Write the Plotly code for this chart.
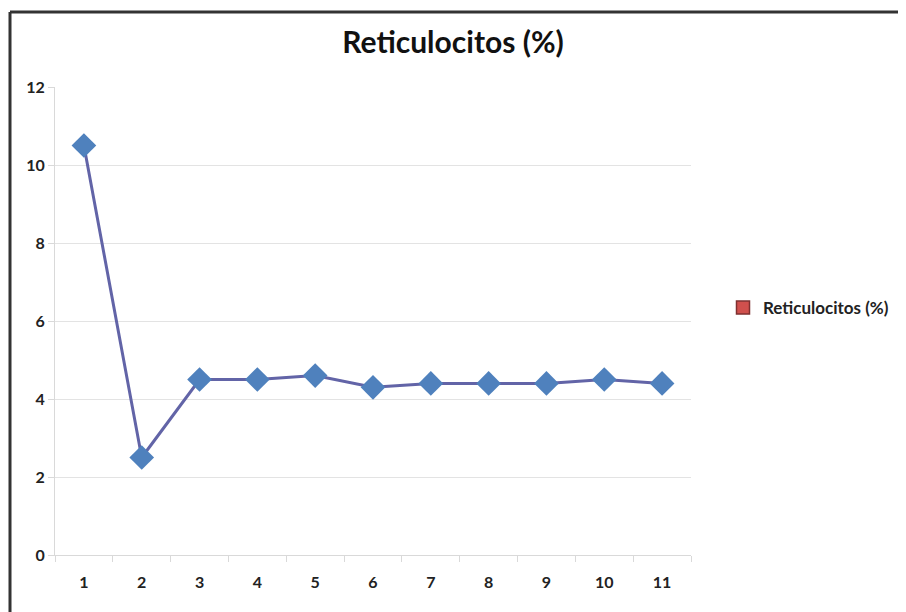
import plotly.graph_objects as go

categories = ["1", "2", "3", "4", "5", "6", "7", "8", "9", "10", "11"]
values = [10.5, 2.5, 4.5, 4.5, 4.6, 4.3, 4.4, 4.4, 4.4, 4.5, 4.4]
series_name = "Reticulocitos (%)"
title_text = "Reticulocitos (%)"
y_ticks = [0, 2, 4, 6, 8, 10, 12]

FONT = "Lato"
OFF = 8  # default page body margin
W, H = 906 - OFF, 612 - OFF
ML, MR, MT, MB = 55 - OFF, 906 - 691, 87 - OFF, 612 - 555
pw, ph = W - ML - MR, H - MT - MB

def px_x(p):
    return (p - OFF - ML) / pw

def px_y(p):
    return (H - MB - (p - OFF)) / ph

fig = go.Figure()
fig.add_trace(go.Scatter(
    x=categories, y=values, mode="lines+markers", name=series_name,
    showlegend=False,
    line=dict(color="#6264a7", width=3),
    marker=dict(symbol="diamond", size=19, color="#4f81bd",
                line=dict(color="#4f81bd", width=0)),
))
# legend entry (square red marker)
fig.add_trace(go.Scatter(
    x=[None], y=[None], mode="markers", name=series_name,
    marker=dict(symbol="square", size=13, color="#d0504d",
                line=dict(color="#7f3030", width=1.5)),
))

fig.update_layout(
    width=W, height=H,
    margin=dict(l=ML, r=MR, t=MT, b=MB),
    paper_bgcolor="white", plot_bgcolor="white",
    font=dict(family=FONT, color="#333333"),
    title=dict(text="<b>" + title_text + "</b>", x=px_x(453), xref="paper",
               xanchor="center", y=1 - (42 - OFF) / H, yref="container", yanchor="middle",
               font=dict(size=30, color="#111111", family=FONT)),
    legend=dict(x=px_x(723), y=px_y(308), xanchor="left", yanchor="middle",
                font=dict(size=17, color="#222222", family=FONT, weight="bold"),
                itemwidth=30, tracegroupgap=0, bgcolor="rgba(0,0,0,0)"),
    showlegend=True,
    xaxis=dict(type="category", range=[-0.5, 10.5], tickson="boundaries",
               ticks="outside", ticklen=6, tickcolor="#d9d9d9",
               showline=True, linecolor="#d9d9d9", linewidth=1,
               showgrid=False, zeroline=False, ticklabelstandoff=13,
               tickfont=dict(size=16, color="#222222", family=FONT, weight="bold")),
    yaxis=dict(range=[0, 12], tickvals=y_ticks, ticks="outside", ticklen=6,
               tickcolor="#d9d9d9", showline=True, linecolor="#d9d9d9",
               showgrid=True, gridcolor="#e3e3e3", gridwidth=1, zeroline=False,
               tickfont=dict(size=16, color="#222222", family=FONT, weight="bold"),
               ticklabelstandoff=0),
    shapes=[
        dict(type="line", xref="paper", yref="paper",
             x0=px_x(10), x1=px_x(10), y0=px_y(612 + 5), y1=px_y(12),
             line=dict(color="#333333", width=3)),
        dict(type="line", xref="paper", yref="paper",
             x0=px_x(10), x1=px_x(906 + 5), y0=px_y(12), y1=px_y(12),
             line=dict(color="#333333", width=3)),
    ],
)

fig.write_html("out.html")
